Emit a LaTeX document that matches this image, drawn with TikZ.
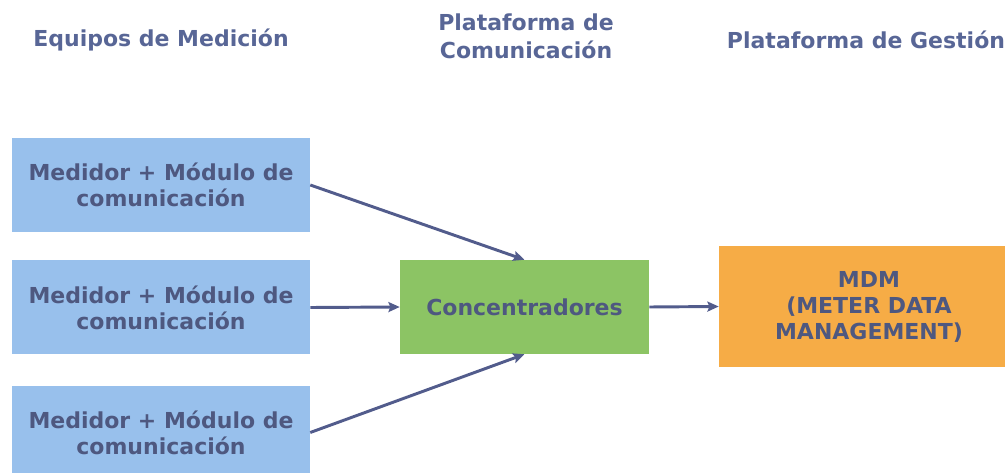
\documentclass[tikz,border=0pt]{standalone}
\usepackage{fontspec}
\setmainfont{DejaVu Sans}
\usepackage{tikz}
\usetikzlibrary{positioning, arrows.meta}

\definecolor{headcol}{RGB}{88,102,150}
\definecolor{txtcol}{RGB}{78,88,128}
\definecolor{medfill}{RGB}{152,192,236}
\definecolor{confill}{RGB}{140,196,100}
\definecolor{mdmfill}{RGB}{246,172,70}
\definecolor{arrcol}{RGB}{82,92,140}

\tikzset{
  headtxt/.style={font=\fontsize{16.5}{21}\selectfont\bfseries, text=headcol, align=center},
  boxtxt/.style={font=\fontsize{16.5}{19.5}\selectfont\bfseries, text=txtcol, align=center, inner sep=0pt},
  medbox/.style={boxtxt, fill=medfill, minimum width=223.5pt, minimum height=70.5pt},
  conbox/.style={boxtxt, fill=confill, minimum width=186.75pt, minimum height=70.5pt},
  mdmbox/.style={boxtxt, fill=mdmfill, minimum width=225pt, minimum height=90.75pt},
  flow/.style={->, draw=arrcol, line width=2.2pt}
}

\begin{document}
\begin{tikzpicture}[>={Stealth[length=8.5pt,width=7.5pt,inset=1.5pt]}, x=0.75pt, y=-0.75pt]
  \useasboundingbox (0,0) rectangle (1005,473);
  % column headers
  \node[headtxt] (hmed) at (161,40) {Equipos de Medición};
  \node[headtxt] (hcom) at (526,36) {Plataforma de\\Comunicación};
  \node[headtxt] (hges) at (866,40) {Plataforma de Gestión};
  % boxes
  \node[medbox] (med1) at (161,185) {Medidor + Módulo de\\comunicación};
  \node[medbox] (med2) at (161,307.5) {Medidor + Módulo de\\comunicación};
  \node[medbox] (med3) at (161,432.5) {Medidor + Módulo de\\comunicación};
  \node[conbox] (conc) at (524.5,307) {Concentradores};
  \node[mdmbox] (mdm) at (869,306.5) {MDM\\(METER DATA\\MANAGEMENT)};
  % connectors
  \draw[flow] (med1.east) -- (conc.north);
  \draw[flow] (med2.east) -- (conc.west);
  \draw[flow] (med3.east) -- (conc.south);
  \draw[flow] (conc.east) -- (mdm.west);
\end{tikzpicture}
\end{document}
